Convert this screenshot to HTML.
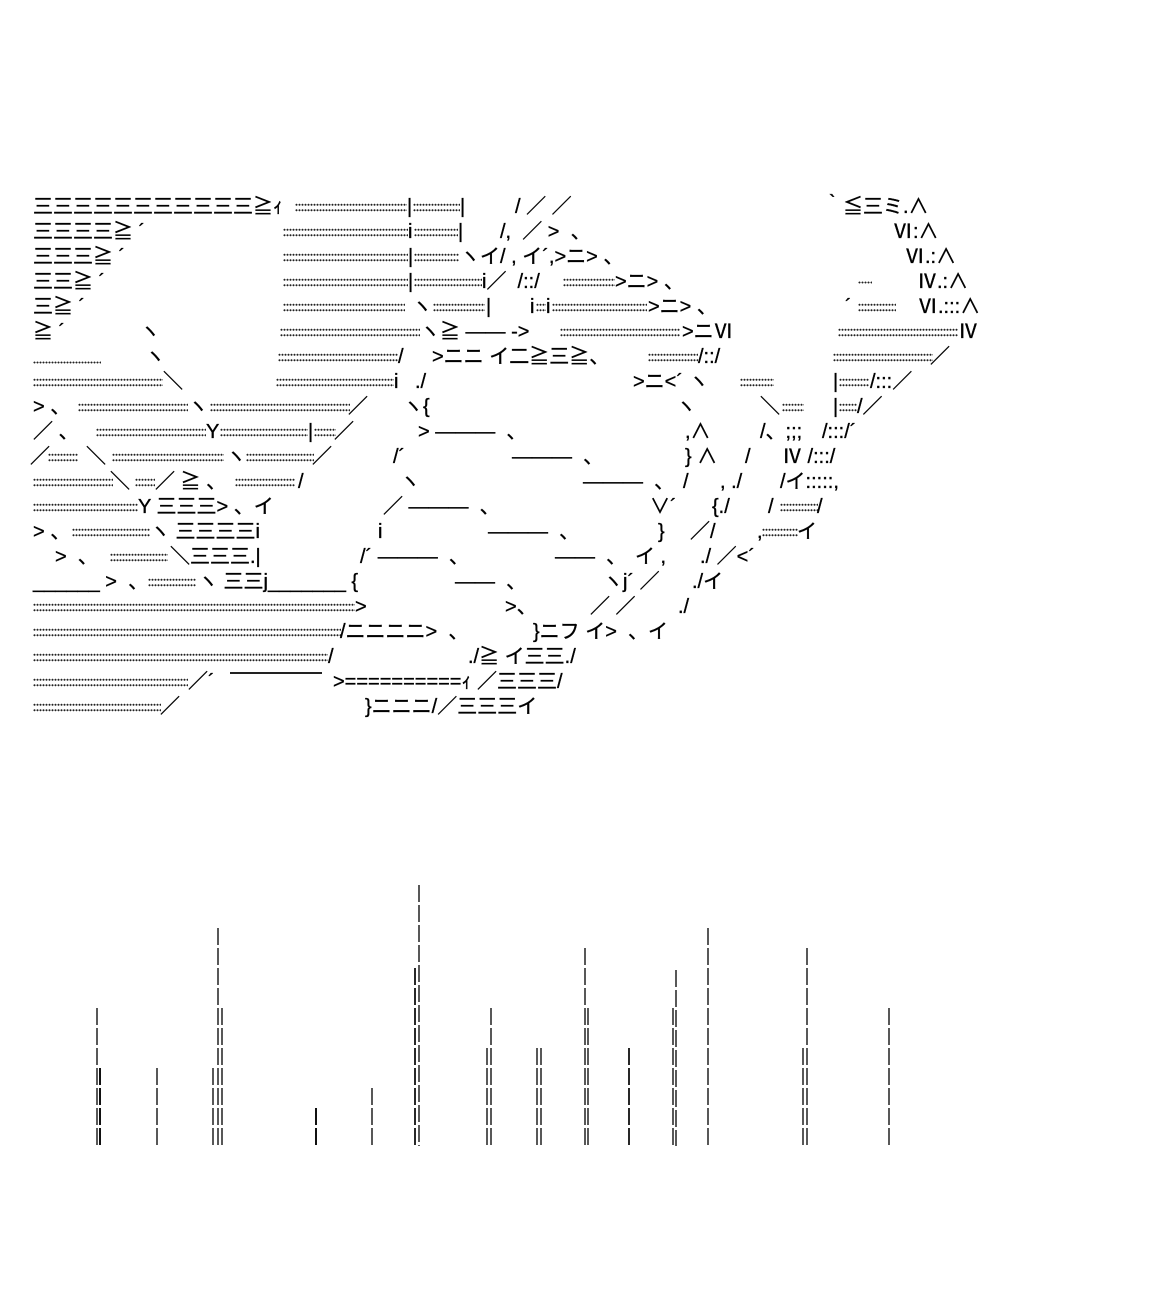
<!DOCTYPE html>
<html><head><meta charset="utf-8"><style>
body{margin:0;background:#fff;width:1158px;height:1294px;position:relative;overflow:hidden}
.t{position:absolute;white-space:pre;font:20px/24px "Liberation Sans","Noto Sans CJK JP",sans-serif;color:#000;-webkit-text-stroke:0.35px #000}
.d{position:absolute;height:11px;background-image:radial-gradient(circle,#222 0.8px,transparent 1.2px);background-size:3px 5.5px}
</style></head><body>
<div class="t" style="left:33px;top:195px">三三三三三三三三三三三≧ｨ</div>
<div class="d" style="left:295px;top:202px;width:112px"></div><div class="t" style="left:407px;top:195px">|</div>
<div class="d" style="left:413px;top:202px;width:47px"></div><div class="t" style="left:460px;top:195px">|</div>
<div class="t" style="left:515px;top:195px">/ ／ ／</div>
<div class="t" style="left:823px;top:195px">｀≦三ミ.∧</div>
<div class="t" style="left:33px;top:220px">三三三三≧ ´</div>
<div class="d" style="left:283px;top:227px;width:125px"></div><div class="t" style="left:408px;top:220px">i</div>
<div class="d" style="left:414px;top:227px;width:44px"></div><div class="t" style="left:458px;top:220px">|</div>
<div class="t" style="left:500px;top:220px">/,  ／ >  、</div>
<div class="t" style="left:893px;top:220px">Ⅵ:∧</div>
<div class="t" style="left:33px;top:245px">三三三≧ ´</div>
<div class="d" style="left:283px;top:252px;width:125px"></div><div class="t" style="left:408px;top:245px">|</div>
<div class="d" style="left:414px;top:252px;width:45px"></div>
<div class="t" style="left:460px;top:245px">ヽイ/ , イ´,>ニ> 、</div>
<div class="t" style="left:905px;top:245px">Ⅵ.:∧</div>
<div class="t" style="left:33px;top:270px">三三≧ ´</div>
<div class="d" style="left:283px;top:277px;width:125px"></div><div class="t" style="left:408px;top:270px">|</div>
<div class="d" style="left:414px;top:277px;width:68px"></div>
<div class="t" style="left:482px;top:270px">i／  /::/</div>
<div class="d" style="left:563px;top:277px;width:52px"></div>
<div class="t" style="left:615px;top:270px">>ニ> 、</div>
<div class="d" style="left:858px;top:280px;width:14px;height:5px"></div>
<div class="t" style="left:917px;top:270px">Ⅳ.:∧</div>
<div class="t" style="left:33px;top:295px">三≧ ´</div>
<div class="d" style="left:283px;top:302px;width:122px"></div>
<div class="t" style="left:412px;top:295px">ヽ</div>
<div class="d" style="left:433px;top:302px;width:52px"></div><div class="t" style="left:486px;top:295px">|</div>
<div class="t" style="left:530px;top:295px">i</div><div class="d" style="left:536px;top:302px;width:10px"></div><div class="t" style="left:546px;top:295px">i</div>
<div class="d" style="left:552px;top:302px;width:95px"></div>
<div class="t" style="left:648px;top:295px">>ニ> 、</div>
<div class="t" style="left:845px;top:295px">´</div><div class="d" style="left:858px;top:302px;width:38px"></div>
<div class="t" style="left:918px;top:295px">Ⅵ.:::∧</div>
<div class="t" style="left:33px;top:320px">≧ ´</div>
<div class="t" style="left:140px;top:320px">ヽ</div>
<div class="d" style="left:280px;top:327px;width:140px"></div>
<div class="t" style="left:420px;top:320px">ヽ≧ ―― -></div>
<div class="d" style="left:560px;top:327px;width:120px"></div>
<div class="t" style="left:682px;top:320px">>ニⅥ</div>
<div class="d" style="left:838px;top:327px;width:120px"></div>
<div class="t" style="left:958px;top:320px">Ⅳ</div>
<div class="d" style="left:33px;top:360px;width:68px;height:5px"></div>
<div class="t" style="left:145px;top:345px">ヽ</div>
<div class="d" style="left:278px;top:352px;width:120px"></div><div class="t" style="left:398px;top:345px">/</div>
<div class="t" style="left:432px;top:345px">>ニニ イ二≧三≧、</div>
<div class="d" style="left:648px;top:352px;width:50px"></div>
<div class="t" style="left:698px;top:345px">/::/</div>
<div class="d" style="left:833px;top:352px;width:100px"></div>
<div class="t" style="left:930px;top:345px">／</div>
<div class="d" style="left:33px;top:377px;width:130px"></div>
<div class="t" style="left:163px;top:370px">＼</div>
<div class="d" style="left:276px;top:377px;width:118px"></div><div class="t" style="left:394px;top:370px">i</div>
<div class="t" style="left:415px;top:370px">./</div>
<div class="t" style="left:633px;top:370px">>ニ<´ ヽ</div>
<div class="d" style="left:740px;top:377px;width:34px"></div>
<div class="t" style="left:833px;top:370px">|</div><div class="d" style="left:839px;top:377px;width:30px"></div>
<div class="t" style="left:870px;top:370px">/:::／</div>
<div class="t" style="left:33px;top:395px">> 、</div>
<div class="d" style="left:78px;top:402px;width:110px"></div>
<div class="t" style="left:188px;top:395px">ヽ</div>
<div class="d" style="left:210px;top:402px;width:140px"></div>
<div class="t" style="left:348px;top:395px">／</div>
<div class="t" style="left:403px;top:395px">ヽ{</div>
<div class="t" style="left:676px;top:395px">ヽ</div>
<div class="t" style="left:760px;top:395px">＼</div><div class="d" style="left:782px;top:402px;width:22px"></div>
<div class="t" style="left:833px;top:395px">|</div><div class="d" style="left:839px;top:402px;width:18px"></div><div class="t" style="left:857px;top:395px">/／</div>
<div class="t" style="left:33px;top:420px">／ 、</div>
<div class="d" style="left:96px;top:427px;width:110px"></div>
<div class="t" style="left:206px;top:420px">Y</div>
<div class="d" style="left:220px;top:427px;width:88px"></div>
<div class="t" style="left:308px;top:420px">|</div><div class="d" style="left:314px;top:427px;width:22px"></div>
<div class="t" style="left:334px;top:420px">／</div>
<div class="t" style="left:418px;top:420px">> ―――  、</div>
<div class="t" style="left:685px;top:420px">,∧</div>
<div class="t" style="left:760px;top:420px">/、;;;</div>
<div class="t" style="left:822px;top:420px">/:::/´</div>
<div class="t" style="left:30px;top:445px">／</div><div class="d" style="left:48px;top:452px;width:30px"></div>
<div class="t" style="left:86px;top:445px">＼</div>
<div class="d" style="left:112px;top:452px;width:112px"></div>
<div class="t" style="left:226px;top:445px">ヽ</div>
<div class="d" style="left:246px;top:452px;width:68px"></div>
<div class="t" style="left:312px;top:445px">／</div>
<div class="t" style="left:393px;top:445px">/´</div>
<div class="t" style="left:512px;top:445px">―――  、</div>
<div class="t" style="left:685px;top:445px">} ∧</div>
<div class="t" style="left:745px;top:445px">/</div>
<div class="t" style="left:782px;top:445px">Ⅳ /:::/</div>
<div class="d" style="left:33px;top:477px;width:80px"></div>
<div class="t" style="left:110px;top:470px">＼</div><div class="d" style="left:135px;top:477px;width:20px"></div>
<div class="t" style="left:155px;top:470px">／ ≧ 、</div>
<div class="d" style="left:235px;top:477px;width:60px"></div><div class="t" style="left:298px;top:470px">/</div>
<div class="t" style="left:400px;top:470px">ヽ</div>
<div class="t" style="left:583px;top:470px">―――  、</div>
<div class="t" style="left:683px;top:470px">/</div>
<div class="t" style="left:720px;top:470px">, ./</div>
<div class="t" style="left:780px;top:470px">/イ:::::,</div>
<div class="d" style="left:33px;top:502px;width:105px"></div>
<div class="t" style="left:138px;top:495px">Y 三三三> 、イ</div>
<div class="t" style="left:383px;top:495px">／ ―――  、</div>
<div class="t" style="left:650px;top:495px">∨´</div>
<div class="t" style="left:712px;top:495px">{./</div>
<div class="t" style="left:768px;top:495px">/</div><div class="d" style="left:780px;top:502px;width:38px"></div><div class="t" style="left:817px;top:495px">/</div>
<div class="t" style="left:33px;top:520px">> 、</div>
<div class="d" style="left:72px;top:527px;width:78px"></div>
<div class="t" style="left:150px;top:520px">ヽ 三三三三i</div>
<div class="t" style="left:378px;top:520px">i</div>
<div class="t" style="left:488px;top:520px">―――  、</div>
<div class="t" style="left:658px;top:520px">}</div>
<div class="t" style="left:690px;top:520px">／/</div>
<div class="t" style="left:757px;top:520px">,</div><div class="d" style="left:762px;top:527px;width:36px"></div><div class="t" style="left:797px;top:520px">イ</div>
<div class="t" style="left:55px;top:545px">>  、</div>
<div class="d" style="left:110px;top:552px;width:58px"></div>
<div class="t" style="left:170px;top:545px">＼三三三.|</div>
<div class="t" style="left:360px;top:545px">/´ ―――  、</div>
<div class="t" style="left:555px;top:545px">――  、</div>
<div class="t" style="left:635px;top:545px">イ ,</div>
<div class="t" style="left:700px;top:545px">./ ／<´</div>
<div class="t" style="left:33px;top:570px">______ >  、</div>
<div class="d" style="left:148px;top:577px;width:48px"></div>
<div class="t" style="left:198px;top:570px">ヽ 三三j_______ {</div>
<div class="t" style="left:455px;top:570px">――  、</div>
<div class="t" style="left:603px;top:570px">ヽj´ ／</div>
<div class="t" style="left:692px;top:570px">./イ</div>
<div class="d" style="left:33px;top:602px;width:322px"></div>
<div class="t" style="left:355px;top:595px">></div>
<div class="t" style="left:505px;top:595px">>、</div>
<div class="t" style="left:590px;top:595px">／ ／</div>
<div class="t" style="left:678px;top:595px">./</div>
<div class="d" style="left:33px;top:627px;width:308px"></div>
<div class="t" style="left:340px;top:620px">/ニニニニ>  、</div>
<div class="t" style="left:533px;top:620px">}ニフ イ>  、イ</div>
<div class="d" style="left:33px;top:652px;width:295px"></div>
<div class="t" style="left:328px;top:645px">/</div>
<div class="t" style="left:468px;top:645px">./≧ イ三三./</div>
<div class="d" style="left:33px;top:677px;width:155px"></div>
<div class="t" style="left:188px;top:670px">／´</div>
<div style="position:absolute;left:230px;top:672px;width:92px;height:2px;background:#222"></div>
<div class="t" style="left:333px;top:670px">>==========ｨ ／三三三/</div>
<div class="d" style="left:33px;top:702px;width:128px"></div>
<div class="t" style="left:160px;top:695px">／</div>
<div class="t" style="left:365px;top:695px">}ニニニ/／三三三イ</div>

<svg style="position:absolute;left:0;top:0" width="1158" height="1294">
<g stroke="#111" stroke-width="1.4" stroke-dasharray="17 3" fill="none">
<line x1="97" y1="1008" x2="97" y2="1146"/><line x1="100" y1="1068" x2="100" y2="1146" stroke-width="2"/>
<line x1="157" y1="1068" x2="157" y2="1146"/>
<line x1="218" y1="928" x2="218" y2="1146"/><line x1="222" y1="1008" x2="222" y2="1146"/><line x1="213" y1="1068" x2="213" y2="1146"/>
<line x1="316" y1="1108" x2="316" y2="1146" stroke-width="2"/>
<line x1="372" y1="1088" x2="372" y2="1146"/>
<line x1="419" y1="885" x2="419" y2="1146"/><line x1="415" y1="968" x2="415" y2="1146" stroke-width="1.8"/>
<line x1="491" y1="1008" x2="491" y2="1146"/><line x1="487" y1="1048" x2="487" y2="1146"/>
<line x1="537" y1="1048" x2="537" y2="1146"/><line x1="541" y1="1048" x2="541" y2="1146"/>
<line x1="585" y1="948" x2="585" y2="1146"/><line x1="588" y1="1008" x2="588" y2="1146"/>
<line x1="629" y1="1048" x2="629" y2="1146" stroke-width="1.8"/>
<line x1="673" y1="1008" x2="673" y2="1146"/><line x1="676" y1="970" x2="676" y2="1146"/>
<line x1="708" y1="928" x2="708" y2="1146"/>
<line x1="807" y1="948" x2="807" y2="1146"/><line x1="803" y1="1048" x2="803" y2="1146"/>
<line x1="889" y1="1008" x2="889" y2="1146"/>
</g></svg>
</body></html>
